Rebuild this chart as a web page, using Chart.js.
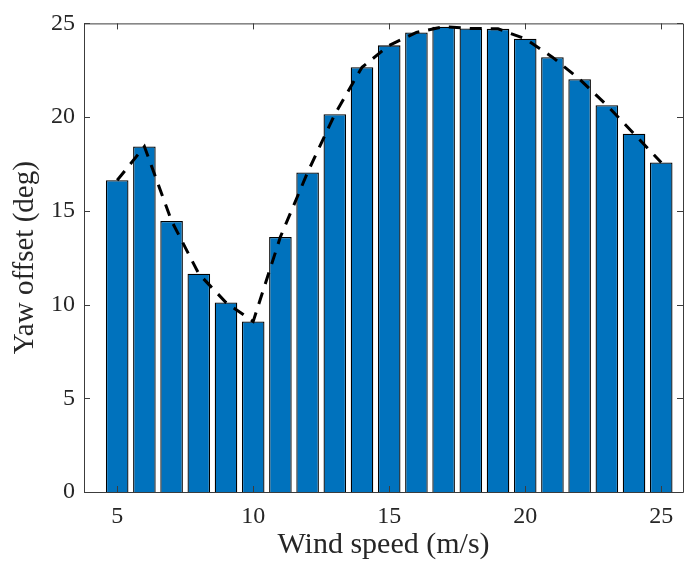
<!DOCTYPE html>
<html>
<head>
<meta charset="utf-8">
<script src="https://cdn.jsdelivr.net/npm/chart.js@4"></script>
<style>
  html, body { margin: 0; padding: 0; background: #fff; }
  #wrap { width: 684px; height: 563px; }
</style>
</head>
<body>
<div id="wrap"><canvas id="yawChart" width="684" height="563"></canvas></div>
<script>
const windSpeed = [5, 6, 7, 8, 9, 10, 11, 12, 13, 14, 15, 16, 17, 18, 19, 20, 21, 22, 23, 24, 25];
const yawOffset = [16.63, 18.43, 14.46, 11.64, 10.11, 9.10, 13.61, 17.05, 20.15, 22.66, 23.83,
                   24.52, 24.82, 24.73, 24.71, 24.18, 23.20, 22.02, 20.63, 19.11, 17.58];
const xTicks = [5, 10, 15, 20, 25];
const yTicks = [0, 5, 10, 15, 20, 25];

const axisColor = '#3c3c3c';
const serif = "'Liberation Serif', 'Times New Roman', serif";

const points = windSpeed.map((w, i) => ({ x: w, y: yawOffset[i] }));

// box round the plot plus inward ticks, matlab style
const boxPlugin = {
    id: 'boxTicks',
    afterDatasetsDraw(chart) {
        const ctx = chart.ctx;
        const a = chart.chartArea;
        const xs = chart.scales.x, ys = chart.scales.y;
        const tl = 6;
        ctx.save();
        ctx.strokeStyle = axisColor;
        ctx.lineWidth = 1;
        ctx.beginPath();
        ctx.rect(a.left + 0.5, a.top + 0.5, a.right - a.left, a.bottom - a.top);
        xTicks.forEach(v => {
            const px = Math.round(xs.getPixelForValue(v)) + 0.5;
            ctx.moveTo(px, a.bottom); ctx.lineTo(px, a.bottom - tl);
            ctx.moveTo(px, a.top); ctx.lineTo(px, a.top + tl);
        });
        yTicks.forEach(v => {
            const py = Math.round(ys.getPixelForValue(v)) + 0.5;
            ctx.moveTo(a.left, py); ctx.lineTo(a.left + tl, py);
            ctx.moveTo(a.right, py); ctx.lineTo(a.right - tl, py);
        });
        ctx.stroke();
        ctx.restore();
    }
};

const ctx = document.getElementById('yawChart').getContext('2d');
const yawChart = new Chart(ctx, {
    type: 'bar',
    data: {
        datasets: [
            {
                type: 'line',
                data: points,
                borderColor: '#000000',
                borderWidth: 3,
                borderDash: [12, 9],
                pointRadius: 0,
                tension: 0,
                fill: false,
                order: 0
            },
            {
                type: 'bar',
                data: points,
                backgroundColor: '#0072BD',
                borderColor: '#000000',
                borderWidth: 1.3,
                barPercentage: 0.83,
                categoryPercentage: 1,
                order: 1
            }
        ]
    },
    options: {
        responsive: false,
        animation: false,
        devicePixelRatio: 1,
        layout: { padding: { top: 22, right: 1, left: 0, bottom: 0 } },
        plugins: {
            legend: { display: false },
            tooltip: { enabled: false }
        },
        scales: {
            x: {
                type: 'linear',
                min: 3.78,
                max: 25.8,
                offset: false,
                afterBuildTicks: s => { s.ticks = xTicks.map(v => ({ value: v })); },
                afterFit: s => { s.height = 71; },
                grid: { display: false, drawTicks: false },
                border: { display: false },
                ticks: { color: '#262626', font: { family: serif, size: 24 }, padding: 10, maxRotation: 0 },
                title: {
                    display: true,
                    text: 'Wind speed (m/s)',
                    color: '#262626',
                    font: { family: serif, size: 30 },
                    padding: { top: 0, bottom: 0 }
                }
            },
            y: {
                min: 0,
                max: 25,
                afterBuildTicks: s => { s.ticks = yTicks.map(v => ({ value: v })); },
                afterFit: s => { s.width = 84; },
                grid: { display: false, drawTicks: false },
                border: { display: false },
                ticks: { color: '#262626', font: { family: serif, size: 24 }, padding: 9 },
                title: {
                    display: true,
                    text: 'Yaw offset (deg)',
                    color: '#262626',
                    font: { family: serif, size: 29 },
                    padding: { top: 8, bottom: 0 }
                }
            }
        }
    },
    plugins: [boxPlugin]
});
</script>
</body>
</html>
